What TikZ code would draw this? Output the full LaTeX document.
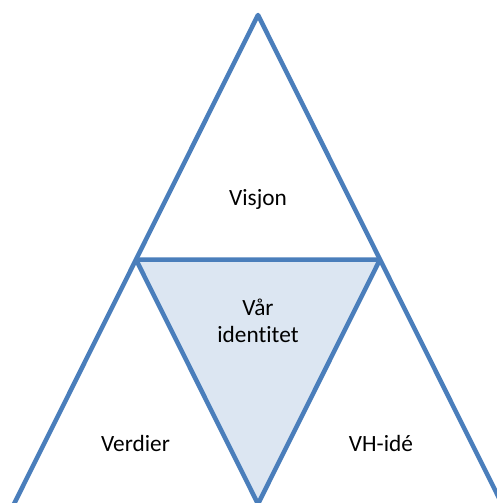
\documentclass[tikz,border=0pt]{standalone}
\usepackage{fontspec}
\setmainfont{Carlito}[Ligatures=NoCommon]
\definecolor{edgeblue}{HTML}{4A7EBB}
\definecolor{fillblue}{HTML}{DCE6F2}
\begin{document}
\begin{tikzpicture}[x=1pt,y=-1pt,
  edge/.style={draw=edgeblue,line width=4.5pt,line join=round},
  lbl/.style={inner sep=0pt,anchor=base,font=\fontsize{23.3}{28}\selectfont,text=black}]
\useasboundingbox (0,0) rectangle (497,503);
\clip (0,0) rectangle (497,503);
\coordinate (A) at (258,15);
\coordinate (L) at (136,259.5);
\coordinate (R) at (380,259.5);
\coordinate (B) at (258,504);
\coordinate (BL) at (14,504);
\coordinate (BR) at (502,504);
\fill[fillblue] (L) -- (R) -- (B) -- cycle;
\draw[edge] (BL) -- (A) -- (BR);
\draw[edge] (L) -- (R) -- (B) -- cycle;
\node[lbl] (visjon) at (258,205) {Visjon};
\node[lbl] (var) at (258,315) {Vår};
\node[lbl] (ident) at (258,342) {identitet};
\node[lbl] (verdier) at (135.5,451) {Verdier};
\node[lbl] (vh) at (381,451) {VH-idé};
\end{tikzpicture}
\end{document}
